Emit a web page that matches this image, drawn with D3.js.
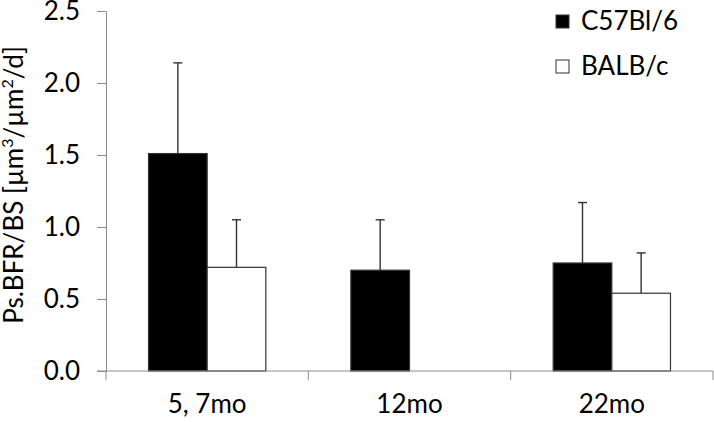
<!DOCTYPE html>
<html>
<head>
<meta charset="utf-8">
<script src="https://cdn.jsdelivr.net/npm/d3@7"></script>
<style>
  body { margin: 0; background: #fff; }
  svg { display: block; font-family: Lato, "Open Sans", sans-serif; }
</style>
</head>
<body>
<div class="chart-container"></div>
<script>
const categories = ['5, 7mo', '12mo', '22mo'];
const seriesNames = ['C57Bl/6', 'BALB/c'];
// mean values per category, one array per strain (null = no bar)
const c57Values = [1.51, 0.70, 0.75];
const balbValues = [0.72, null, 0.54];
// top of the error bar (mean + sd)
const c57ErrorTop = [2.14, 1.05, 1.17];
const balbErrorTop = [1.05, null, 0.82];
const yTicks = [0, 0.5, 1.0, 1.5, 2.0, 2.5];

const width = 714;
const height = 422;
const margin = {top: 11, right: 1, bottom: 51, left: 106};

const series = [
  {name: seriesNames[0], values: c57Values, err: c57ErrorTop, fill: '#000'},
  {name: seriesNames[1], values: balbValues, err: balbErrorTop, fill: '#fff'}
];

const svg = d3.select('.chart-container')
  .append('svg')
  .attr('width', width)
  .attr('height', height);

const x = d3.scaleBand()
  .domain(categories)
  .range([margin.left, width - margin.right]);

// Excel style gap width of ~145% between clusters
const x1 = d3.scaleBand()
  .domain(seriesNames)
  .range([0, x.bandwidth()])
  .paddingOuter(0.725)
  .paddingInner(0);

const y = d3.scaleLinear()
  .domain([0, 2.5])
  .range([height - margin.bottom, margin.top]);

// bars
const groups = svg.append('g')
  .selectAll('g')
  .data(series)
  .enter()
  .append('g');

groups.selectAll('rect')
  .data(s => s.values.map((v, i) => ({cat: categories[i], v, s})).filter(d => d.v != null))
  .enter()
  .append('rect')
  .attr('x', d => x(d.cat) + x1(d.s.name))
  .attr('y', d => y(d.v))
  .attr('width', x1.bandwidth())
  .attr('height', d => y(0) - y(d.v))
  .attr('fill', d => d.s.fill)
  .attr('stroke', '#333')
  .attr('stroke-width', 1.2);

// error bars (upper only)
const errs = groups.selectAll('g.err')
  .data(s => s.values.map((v, i) => ({cat: categories[i], v, top: s.err[i], s})).filter(d => d.v != null))
  .enter()
  .append('g')
  .attr('class', 'err')
  .attr('stroke', '#333')
  .attr('stroke-width', 1.4);

errs.append('line')
  .attr('x1', d => x(d.cat) + x1(d.s.name) + x1.bandwidth() / 2)
  .attr('x2', d => x(d.cat) + x1(d.s.name) + x1.bandwidth() / 2)
  .attr('y1', d => y(d.v))
  .attr('y2', d => y(d.top));

errs.append('line')
  .attr('x1', d => x(d.cat) + x1(d.s.name) + x1.bandwidth() / 2 - 4.5)
  .attr('x2', d => x(d.cat) + x1(d.s.name) + x1.bandwidth() / 2 + 4.5)
  .attr('y1', d => y(d.top))
  .attr('y2', d => y(d.top));

// y axis
const yAxis = svg.append('g')
  .attr('transform', `translate(${margin.left},0)`)
  .call(d3.axisLeft(y).tickValues(yTicks).tickFormat(d3.format('.1f')).tickSize(9).tickPadding(17));

// x axis: ticks sit on the category boundaries
const bounds = categories.map(c => x(c)).concat([x.range()[1]]);
const xAxis = svg.append('g')
  .attr('transform', `translate(0,${y(0)})`);
xAxis.append('line')
  .attr('x1', margin.left - 9)
  .attr('x2', x.range()[1])
  .attr('stroke', '#8c8c8c');
xAxis.selectAll('line.tick')
  .data(bounds)
  .enter()
  .append('line')
  .attr('class', 'tick')
  .attr('x1', d => d)
  .attr('x2', d => d)
  .attr('y1', 0)
  .attr('y2', 9)
  .attr('stroke', '#8c8c8c');
xAxis.selectAll('text')
  .data(categories)
  .enter()
  .append('text')
  .attr('x', d => x(d) + x.bandwidth() / 2)
  .attr('y', 42)
  .attr('text-anchor', 'middle')
  .attr('font-size', 26)
  .attr('fill', '#000')
  .text(d => d);

yAxis.select('.domain').attr('stroke', '#8c8c8c');
yAxis.selectAll('.tick line').attr('stroke', '#8c8c8c');
yAxis.selectAll('.tick text')
  .attr('font-size', 26)
  .attr('font-family', 'Lato, sans-serif')
  .attr('fill', '#000');

// y axis title
const title = svg.append('text')
  .attr('transform', `translate(23,185) rotate(-90)`)
  .attr('text-anchor', 'middle')
  .attr('font-size', 26)
  .attr('fill', '#000');
title.append('tspan').text('Ps.BFR/BS [µm');
title.append('tspan').attr('dy', -10).attr('font-size', 16).text('3');
title.append('tspan').attr('dy', 10).text('/µm');
title.append('tspan').attr('dy', -10).attr('font-size', 16).text('2');
title.append('tspan').attr('dy', 10).text('/d]');

// legend
const legend = svg.append('g')
  .selectAll('g')
  .data(series)
  .enter()
  .append('g')
  .attr('transform', (d, i) => `translate(556,${15 + i * 45})`);

legend.append('rect')
  .attr('width', 13)
  .attr('height', 13)
  .attr('fill', d => d.fill)
  .attr('stroke', '#333')
  .attr('stroke-width', 1);

legend.append('text')
  .attr('x', 25)
  .attr('y', 15)
  .attr('font-size', 26)
  .attr('fill', '#000')
  .text(d => d.name);
</script>
</body>
</html>
